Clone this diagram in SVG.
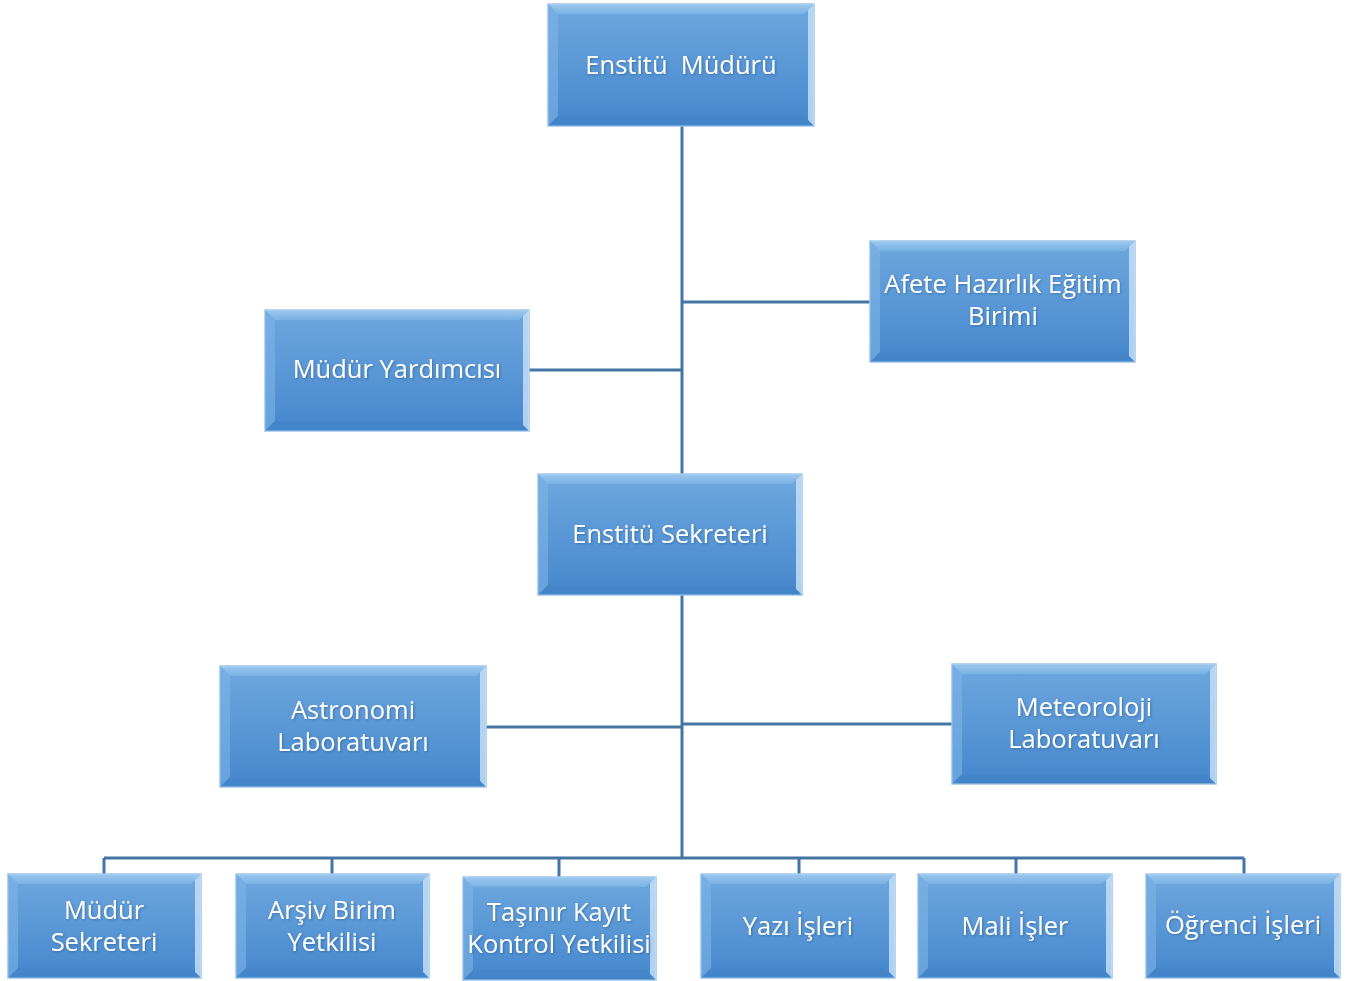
<svg xmlns="http://www.w3.org/2000/svg" width="1361" height="981" viewBox="0 0 1361 981">
<defs>
<linearGradient id="g" x1="0" y1="0" x2="0" y2="1">
<stop offset="0" stop-color="#6ea7de"/>
<stop offset="1" stop-color="#4587cd"/>
</linearGradient>
<linearGradient id="gt" x1="0" y1="0" x2="0" y2="1">
<stop offset="0" stop-color="#a9d0f2"/>
<stop offset="1" stop-color="#7db5e6"/>
</linearGradient>
<filter id="ts" x="-10%" y="-10%" width="120%" height="130%">
<feDropShadow dx="1" dy="1" stdDeviation="0.8" flood-color="#1f4e7a" flood-opacity="0.5"/>
</filter>
</defs>
<style>
.box{fill:url(#g);stroke:#9cc6ec;stroke-width:1.5}
.top{fill:url(#gt);opacity:0.8}
.left{fill:#7fb4e6;opacity:0.6}
.right{fill:#c9e2f7;opacity:0.8}
.bot{fill:#3a7cc0;opacity:0.25}
.t{font-family:"Open Sans","Liberation Sans",sans-serif;font-size:25.5px;fill:#ffffff;text-anchor:middle;filter:url(#ts);white-space:pre}
.c{stroke:#4575a3;stroke-width:3;fill:none}
</style>
<rect width="1361" height="981" fill="#ffffff"/>
<g id="connectors">
<path class="c" d="M682 126V474M682 302H870M529 370H682M682 595V858M486 727H682M682 724H952M104 858H1244M104 858V874M332 858V874M559 858V877M799 858V874M1016 858V874M1244 858V874"/>
</g>
<g id="n1">
<rect class="box" x="548" y="4" width="266" height="122"/>
<polygon class="top" points="548,4 814,4 804,14 558,14"/>
<polygon class="left" points="548,4 558,14 558,116 548,126"/>
<polygon class="right" points="814,4 814,126 808,120 808,10"/>
<polygon class="bot" points="548,126 814,126 804,116 558,116"/>
<text class="t" x="681" y="74" xml:space="preserve">Enstitü  Müdürü</text>
</g>
<g id="n2">
<rect class="box" x="870" y="241" width="265" height="121"/>
<polygon class="top" points="870,241 1135,241 1125,251 880,251"/>
<polygon class="left" points="870,241 880,251 880,352 870,362"/>
<polygon class="right" points="1135,241 1135,362 1129,356 1129,247"/>
<polygon class="bot" points="870,362 1135,362 1125,352 880,352"/>
<text class="t" x="1003" y="293">Afete Hazırlık Eğitim</text>
<text class="t" x="1003" y="325">Birimi</text>
</g>
<g id="n3">
<rect class="box" x="265" y="310" width="264" height="121"/>
<polygon class="top" points="265,310 529,310 519,320 275,320"/>
<polygon class="left" points="265,310 275,320 275,421 265,431"/>
<polygon class="right" points="529,310 529,431 523,425 523,316"/>
<polygon class="bot" points="265,431 529,431 519,421 275,421"/>
<text class="t" x="397" y="378">Müdür Yardımcısı</text>
</g>
<g id="n4">
<rect class="box" x="538" y="474" width="264" height="121"/>
<polygon class="top" points="538,474 802,474 792,484 548,484"/>
<polygon class="left" points="538,474 548,484 548,585 538,595"/>
<polygon class="right" points="802,474 802,595 796,589 796,480"/>
<polygon class="bot" points="538,595 802,595 792,585 548,585"/>
<text class="t" x="670" y="543">Enstitü Sekreteri</text>
</g>
<g id="n5">
<rect class="box" x="220" y="666" width="266" height="121"/>
<polygon class="top" points="220,666 486,666 476,676 230,676"/>
<polygon class="left" points="220,666 230,676 230,777 220,787"/>
<polygon class="right" points="486,666 486,787 480,781 480,672"/>
<polygon class="bot" points="220,787 486,787 476,777 230,777"/>
<text class="t" x="353" y="719">Astronomi</text>
<text class="t" x="353" y="751">Laboratuvarı</text>
</g>
<g id="n6">
<rect class="box" x="952" y="664" width="264" height="120"/>
<polygon class="top" points="952,664 1216,664 1206,674 962,674"/>
<polygon class="left" points="952,664 962,674 962,774 952,784"/>
<polygon class="right" points="1216,664 1216,784 1210,778 1210,670"/>
<polygon class="bot" points="952,784 1216,784 1206,774 962,774"/>
<text class="t" x="1084" y="716">Meteoroloji</text>
<text class="t" x="1084" y="748">Laboratuvarı</text>
</g>
<g id="n7">
<rect class="box" x="8" y="874" width="193" height="104"/>
<polygon class="top" points="8,874 201,874 191,884 18,884"/>
<polygon class="left" points="8,874 18,884 18,968 8,978"/>
<polygon class="right" points="201,874 201,978 195,972 195,880"/>
<polygon class="bot" points="8,978 201,978 191,968 18,968"/>
<text class="t" x="104" y="919">Müdür</text>
<text class="t" x="104" y="951">Sekreteri</text>
</g>
<g id="n8">
<rect class="box" x="236" y="874" width="193" height="104"/>
<polygon class="top" points="236,874 429,874 419,884 246,884"/>
<polygon class="left" points="236,874 246,884 246,968 236,978"/>
<polygon class="right" points="429,874 429,978 423,972 423,880"/>
<polygon class="bot" points="236,978 429,978 419,968 246,968"/>
<text class="t" x="332" y="919">Arşiv Birim</text>
<text class="t" x="332" y="951">Yetkilisi</text>
</g>
<g id="n9">
<rect class="box" x="463" y="877" width="193" height="103"/>
<polygon class="top" points="463,877 656,877 646,887 473,887"/>
<polygon class="left" points="463,877 473,887 473,970 463,980"/>
<polygon class="right" points="656,877 656,980 650,974 650,883"/>
<polygon class="bot" points="463,980 656,980 646,970 473,970"/>
<text class="t" x="559" y="921">Taşınır Kayıt</text>
<text class="t" x="559" y="953">Kontrol Yetkilisi</text>
</g>
<g id="n10">
<rect class="box" x="701" y="874" width="194" height="104"/>
<polygon class="top" points="701,874 895,874 885,884 711,884"/>
<polygon class="left" points="701,874 711,884 711,968 701,978"/>
<polygon class="right" points="895,874 895,978 889,972 889,880"/>
<polygon class="bot" points="701,978 895,978 885,968 711,968"/>
<text class="t" x="798" y="935">Yazı İşleri</text>
</g>
<g id="n11">
<rect class="box" x="918" y="874" width="194" height="104"/>
<polygon class="top" points="918,874 1112,874 1102,884 928,884"/>
<polygon class="left" points="918,874 928,884 928,968 918,978"/>
<polygon class="right" points="1112,874 1112,978 1106,972 1106,880"/>
<polygon class="bot" points="918,978 1112,978 1102,968 928,968"/>
<text class="t" x="1015" y="935">Mali İşler</text>
</g>
<g id="n12">
<rect class="box" x="1146" y="874" width="194" height="104"/>
<polygon class="top" points="1146,874 1340,874 1330,884 1156,884"/>
<polygon class="left" points="1146,874 1156,884 1156,968 1146,978"/>
<polygon class="right" points="1340,874 1340,978 1334,972 1334,880"/>
<polygon class="bot" points="1146,978 1340,978 1330,968 1156,968"/>
<text class="t" x="1243" y="934">Öğrenci İşleri</text>
</g>
</svg>
